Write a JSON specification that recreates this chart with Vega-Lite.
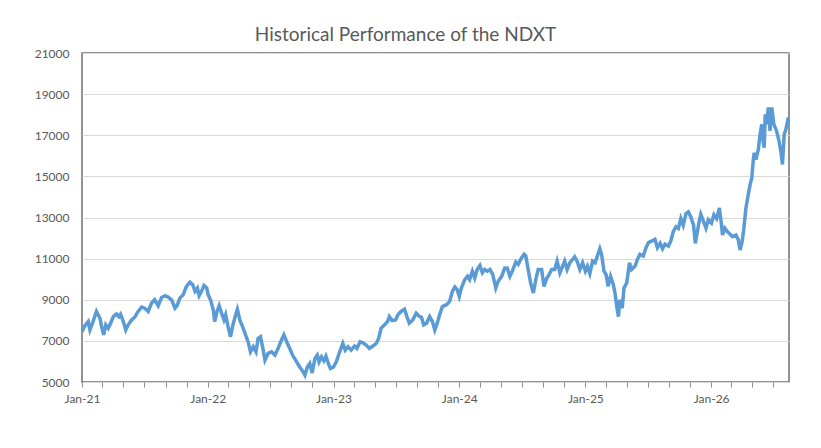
{
  "$schema": "https://vega.github.io/schema/vega-lite/v6.json",
  "width": 707,
  "height": 329,
  "autosize": "none",
  "padding": {"left": 82, "top": 53, "right": 32, "bottom": 66},
  "background": "#ffffff",
  "title": {
    "text": "Historical Performance of the NDXT",
    "font": "Lato",
    "fontSize": 19,
    "fontWeight": "normal",
    "color": "#595959",
    "anchor": "middle",
    "dx": -30,
    "offset": 2
  },
  "data": {
    "values": [
      {"date": "2021-01-01", "value": 7450},
      {"date": "2021-01-09", "value": 7730},
      {"date": "2021-01-19", "value": 7940},
      {"date": "2021-01-24", "value": 7530},
      {"date": "2021-02-02", "value": 7940},
      {"date": "2021-02-12", "value": 8430},
      {"date": "2021-02-22", "value": 8100},
      {"date": "2021-02-27", "value": 7690},
      {"date": "2021-03-05", "value": 7290},
      {"date": "2021-03-11", "value": 7780},
      {"date": "2021-03-18", "value": 7610},
      {"date": "2021-03-25", "value": 7860},
      {"date": "2021-04-02", "value": 8180},
      {"date": "2021-04-11", "value": 8310},
      {"date": "2021-04-18", "value": 8180},
      {"date": "2021-04-23", "value": 8300},
      {"date": "2021-05-01", "value": 7940},
      {"date": "2021-05-08", "value": 7530},
      {"date": "2021-05-15", "value": 7780},
      {"date": "2021-05-25", "value": 8020},
      {"date": "2021-06-03", "value": 8150},
      {"date": "2021-06-13", "value": 8430},
      {"date": "2021-06-23", "value": 8640},
      {"date": "2021-07-02", "value": 8590},
      {"date": "2021-07-12", "value": 8430},
      {"date": "2021-07-22", "value": 8840},
      {"date": "2021-07-31", "value": 9000},
      {"date": "2021-08-10", "value": 8710},
      {"date": "2021-08-20", "value": 9110},
      {"date": "2021-08-30", "value": 9200},
      {"date": "2021-09-08", "value": 9130},
      {"date": "2021-09-18", "value": 9000},
      {"date": "2021-09-28", "value": 8590},
      {"date": "2021-10-04", "value": 8710},
      {"date": "2021-10-12", "value": 9080},
      {"date": "2021-10-22", "value": 9250},
      {"date": "2021-10-31", "value": 9650},
      {"date": "2021-11-10", "value": 9850},
      {"date": "2021-11-18", "value": 9740},
      {"date": "2021-11-25", "value": 9410},
      {"date": "2021-12-02", "value": 9570},
      {"date": "2021-12-07", "value": 9200},
      {"date": "2021-12-14", "value": 9410},
      {"date": "2021-12-21", "value": 9690},
      {"date": "2021-12-29", "value": 9570},
      {"date": "2022-01-02", "value": 9250},
      {"date": "2022-01-09", "value": 9000},
      {"date": "2022-01-17", "value": 8510},
      {"date": "2022-01-21", "value": 7940},
      {"date": "2022-01-28", "value": 8430},
      {"date": "2022-02-03", "value": 8710},
      {"date": "2022-02-10", "value": 8350},
      {"date": "2022-02-17", "value": 8020},
      {"date": "2022-02-22", "value": 8270},
      {"date": "2022-03-01", "value": 7690},
      {"date": "2022-03-08", "value": 7200},
      {"date": "2022-03-15", "value": 7780},
      {"date": "2022-03-23", "value": 8270},
      {"date": "2022-03-28", "value": 8540},
      {"date": "2022-04-04", "value": 8020},
      {"date": "2022-04-12", "value": 7690},
      {"date": "2022-04-19", "value": 7370},
      {"date": "2022-04-28", "value": 6960},
      {"date": "2022-05-05", "value": 6470},
      {"date": "2022-05-13", "value": 6720},
      {"date": "2022-05-21", "value": 6470},
      {"date": "2022-05-27", "value": 7120},
      {"date": "2022-06-03", "value": 7200},
      {"date": "2022-06-11", "value": 6550},
      {"date": "2022-06-16", "value": 6060},
      {"date": "2022-06-25", "value": 6390},
      {"date": "2022-07-05", "value": 6470},
      {"date": "2022-07-15", "value": 6310},
      {"date": "2022-07-24", "value": 6630},
      {"date": "2022-08-03", "value": 7040},
      {"date": "2022-08-10", "value": 7290},
      {"date": "2022-08-18", "value": 6960},
      {"date": "2022-08-27", "value": 6630},
      {"date": "2022-09-04", "value": 6310},
      {"date": "2022-09-16", "value": 5980},
      {"date": "2022-09-25", "value": 5730},
      {"date": "2022-10-05", "value": 5490},
      {"date": "2022-10-10", "value": 5330},
      {"date": "2022-10-17", "value": 5730},
      {"date": "2022-10-24", "value": 5900},
      {"date": "2022-10-31", "value": 5440},
      {"date": "2022-11-08", "value": 6140},
      {"date": "2022-11-15", "value": 6310},
      {"date": "2022-11-20", "value": 5980},
      {"date": "2022-11-27", "value": 6220},
      {"date": "2022-12-04", "value": 6030},
      {"date": "2022-12-10", "value": 6260},
      {"date": "2022-12-17", "value": 5900},
      {"date": "2022-12-23", "value": 5650},
      {"date": "2023-01-01", "value": 5730},
      {"date": "2023-01-09", "value": 5980},
      {"date": "2023-01-19", "value": 6470},
      {"date": "2023-01-28", "value": 6880},
      {"date": "2023-02-04", "value": 6550},
      {"date": "2023-02-12", "value": 6720},
      {"date": "2023-02-21", "value": 6550},
      {"date": "2023-03-03", "value": 6750},
      {"date": "2023-03-10", "value": 6630},
      {"date": "2023-03-19", "value": 6960},
      {"date": "2023-03-27", "value": 6910},
      {"date": "2023-04-06", "value": 6800},
      {"date": "2023-04-15", "value": 6630},
      {"date": "2023-04-25", "value": 6750},
      {"date": "2023-05-05", "value": 6880},
      {"date": "2023-05-12", "value": 7120},
      {"date": "2023-05-19", "value": 7610},
      {"date": "2023-05-29", "value": 7780},
      {"date": "2023-06-07", "value": 7940},
      {"date": "2023-06-12", "value": 8180},
      {"date": "2023-06-20", "value": 7990},
      {"date": "2023-06-30", "value": 8020},
      {"date": "2023-07-07", "value": 8270},
      {"date": "2023-07-16", "value": 8430},
      {"date": "2023-07-26", "value": 8540},
      {"date": "2023-08-02", "value": 8180},
      {"date": "2023-08-09", "value": 7860},
      {"date": "2023-08-19", "value": 8020},
      {"date": "2023-08-29", "value": 8350},
      {"date": "2023-09-08", "value": 8180},
      {"date": "2023-09-13", "value": 8150},
      {"date": "2023-09-20", "value": 7780},
      {"date": "2023-09-28", "value": 7860},
      {"date": "2023-10-07", "value": 8180},
      {"date": "2023-10-15", "value": 7940},
      {"date": "2023-10-22", "value": 7530},
      {"date": "2023-10-29", "value": 7860},
      {"date": "2023-11-05", "value": 8270},
      {"date": "2023-11-13", "value": 8670},
      {"date": "2023-11-25", "value": 8760},
      {"date": "2023-12-04", "value": 8920},
      {"date": "2023-12-12", "value": 9410},
      {"date": "2023-12-19", "value": 9620},
      {"date": "2023-12-26", "value": 9490},
      {"date": "2024-01-01", "value": 9160},
      {"date": "2024-01-07", "value": 9570},
      {"date": "2024-01-17", "value": 9980},
      {"date": "2024-01-25", "value": 10140},
      {"date": "2024-01-31", "value": 9980},
      {"date": "2024-02-08", "value": 10390},
      {"date": "2024-02-15", "value": 10060},
      {"date": "2024-02-22", "value": 10470},
      {"date": "2024-03-01", "value": 10670},
      {"date": "2024-03-08", "value": 10310},
      {"date": "2024-03-15", "value": 10470},
      {"date": "2024-03-22", "value": 10390},
      {"date": "2024-03-30", "value": 10470},
      {"date": "2024-04-07", "value": 10230},
      {"date": "2024-04-16", "value": 9570},
      {"date": "2024-04-23", "value": 9900},
      {"date": "2024-05-03", "value": 10140},
      {"date": "2024-05-12", "value": 10550},
      {"date": "2024-05-19", "value": 10550},
      {"date": "2024-05-27", "value": 10140},
      {"date": "2024-06-03", "value": 10390},
      {"date": "2024-06-13", "value": 10830},
      {"date": "2024-06-20", "value": 10720},
      {"date": "2024-06-27", "value": 10960},
      {"date": "2024-07-07", "value": 11210},
      {"date": "2024-07-12", "value": 11130},
      {"date": "2024-07-19", "value": 10470},
      {"date": "2024-07-26", "value": 9820},
      {"date": "2024-08-03", "value": 9330},
      {"date": "2024-08-10", "value": 9980},
      {"date": "2024-08-17", "value": 10470},
      {"date": "2024-08-27", "value": 10470},
      {"date": "2024-09-03", "value": 9650},
      {"date": "2024-09-10", "value": 10010},
      {"date": "2024-09-18", "value": 10230},
      {"date": "2024-09-25", "value": 10470},
      {"date": "2024-10-04", "value": 10470},
      {"date": "2024-10-11", "value": 10880},
      {"date": "2024-10-19", "value": 10310},
      {"date": "2024-10-27", "value": 10630},
      {"date": "2024-11-02", "value": 10880},
      {"date": "2024-11-09", "value": 10470},
      {"date": "2024-11-17", "value": 10800},
      {"date": "2024-11-25", "value": 10960},
      {"date": "2024-12-01", "value": 11090},
      {"date": "2024-12-08", "value": 10880},
      {"date": "2024-12-16", "value": 10470},
      {"date": "2024-12-24", "value": 10800},
      {"date": "2025-01-01", "value": 10390},
      {"date": "2025-01-07", "value": 10630},
      {"date": "2025-01-14", "value": 10270},
      {"date": "2025-01-22", "value": 10880},
      {"date": "2025-01-29", "value": 10800},
      {"date": "2025-02-05", "value": 11130},
      {"date": "2025-02-12", "value": 11480},
      {"date": "2025-02-17", "value": 11210},
      {"date": "2025-02-24", "value": 10390},
      {"date": "2025-03-02", "value": 10230},
      {"date": "2025-03-08", "value": 9650},
      {"date": "2025-03-15", "value": 10140},
      {"date": "2025-03-23", "value": 9740},
      {"date": "2025-03-28", "value": 9330},
      {"date": "2025-04-02", "value": 8670},
      {"date": "2025-04-07", "value": 8180},
      {"date": "2025-04-11", "value": 9000},
      {"date": "2025-04-18", "value": 8590},
      {"date": "2025-04-23", "value": 9570},
      {"date": "2025-05-01", "value": 9820},
      {"date": "2025-05-09", "value": 10800},
      {"date": "2025-05-15", "value": 10470},
      {"date": "2025-05-25", "value": 10630},
      {"date": "2025-06-01", "value": 10960},
      {"date": "2025-06-08", "value": 11210},
      {"date": "2025-06-18", "value": 11130},
      {"date": "2025-06-26", "value": 11530},
      {"date": "2025-07-03", "value": 11780},
      {"date": "2025-07-13", "value": 11860},
      {"date": "2025-07-22", "value": 11940},
      {"date": "2025-07-29", "value": 11530},
      {"date": "2025-08-06", "value": 11750},
      {"date": "2025-08-13", "value": 11480},
      {"date": "2025-08-20", "value": 11700},
      {"date": "2025-08-30", "value": 11610},
      {"date": "2025-09-06", "value": 11860},
      {"date": "2025-09-13", "value": 12310},
      {"date": "2025-09-21", "value": 12550},
      {"date": "2025-09-28", "value": 12470},
      {"date": "2025-10-05", "value": 12950},
      {"date": "2025-10-12", "value": 12630},
      {"date": "2025-10-20", "value": 13190},
      {"date": "2025-10-27", "value": 13270},
      {"date": "2025-11-03", "value": 13030},
      {"date": "2025-11-11", "value": 12630},
      {"date": "2025-11-16", "value": 11740},
      {"date": "2025-11-22", "value": 12310},
      {"date": "2025-11-28", "value": 12870},
      {"date": "2025-12-02", "value": 13160},
      {"date": "2025-12-10", "value": 12800},
      {"date": "2025-12-17", "value": 12480},
      {"date": "2025-12-24", "value": 12890},
      {"date": "2026-01-02", "value": 12730},
      {"date": "2026-01-09", "value": 13130},
      {"date": "2026-01-17", "value": 12940},
      {"date": "2026-01-25", "value": 13460},
      {"date": "2026-01-30", "value": 12800},
      {"date": "2026-02-03", "value": 12150},
      {"date": "2026-02-10", "value": 12480},
      {"date": "2026-02-17", "value": 12320},
      {"date": "2026-02-25", "value": 12190},
      {"date": "2026-03-04", "value": 12070},
      {"date": "2026-03-14", "value": 12150},
      {"date": "2026-03-21", "value": 11910},
      {"date": "2026-03-26", "value": 11420},
      {"date": "2026-04-01", "value": 11830},
      {"date": "2026-04-06", "value": 12480},
      {"date": "2026-04-12", "value": 13460},
      {"date": "2026-04-17", "value": 13950},
      {"date": "2026-04-24", "value": 14600},
      {"date": "2026-04-29", "value": 14920},
      {"date": "2026-05-03", "value": 15740},
      {"date": "2026-05-06", "value": 16150},
      {"date": "2026-05-11", "value": 15820},
      {"date": "2026-05-18", "value": 16310},
      {"date": "2026-05-23", "value": 17040},
      {"date": "2026-05-28", "value": 17530},
      {"date": "2026-06-01", "value": 16720},
      {"date": "2026-06-04", "value": 16390},
      {"date": "2026-06-07", "value": 18020},
      {"date": "2026-06-11", "value": 17530},
      {"date": "2026-06-16", "value": 18350},
      {"date": "2026-06-21", "value": 17210},
      {"date": "2026-06-26", "value": 18350},
      {"date": "2026-07-02", "value": 17530},
      {"date": "2026-07-10", "value": 17210},
      {"date": "2026-07-17", "value": 16720},
      {"date": "2026-07-23", "value": 16150},
      {"date": "2026-07-27", "value": 15580},
      {"date": "2026-08-01", "value": 17040},
      {"date": "2026-08-06", "value": 17290},
      {"date": "2026-08-13", "value": 17860},
      {"date": "2026-08-15", "value": 17530}
    ]
  },
  "mark": {"type": "line", "color": "#5B9BD5", "strokeWidth": 3.5, "clip": true},
  "encoding": {
    "x": {
      "field": "date",
      "type": "temporal",
      "scale": {
        "type": "utc",
        "domain": [
          {"year": 2021, "month": 1, "date": 1, "utc": true},
          {"year": 2026, "month": 8, "date": 15, "utc": true}
        ]
      },
      "axis": {
        "title": null,
        "grid": false,
        "domain": false,
        "tickCount": {"interval": "month", "step": 2},
        "tickSize": 5,
        "tickColor": "#8c8c8c",
        "labelPadding": 6,
        "labelExpr": "utcmonth(datum.value) == 0 ? utcFormat(datum.value, '%b-%y') : ''",
        "labelFlush": false,
        "labelOverlap": false
      }
    },
    "y": {
      "field": "value",
      "type": "quantitative",
      "scale": {"domain": [5000, 21000], "nice": false, "zero": false},
      "axis": {
        "title": null,
        "values": [5000, 7000, 9000, 11000, 13000, 15000, 17000, 19000, 21000],
        "format": "d",
        "ticks": false,
        "domain": false,
        "labelPadding": 13,
        "gridColor": "#D9D9D9",
        "gridWidth": 1
      }
    }
  },
  "config": {
    "view": {"stroke": "#6f6f6f", "strokeWidth": 1.5},
    "axis": {
      "labelFont": "Lato",
      "labelFontSize": 12,
      "labelColor": "#595959"
    }
  }
}
